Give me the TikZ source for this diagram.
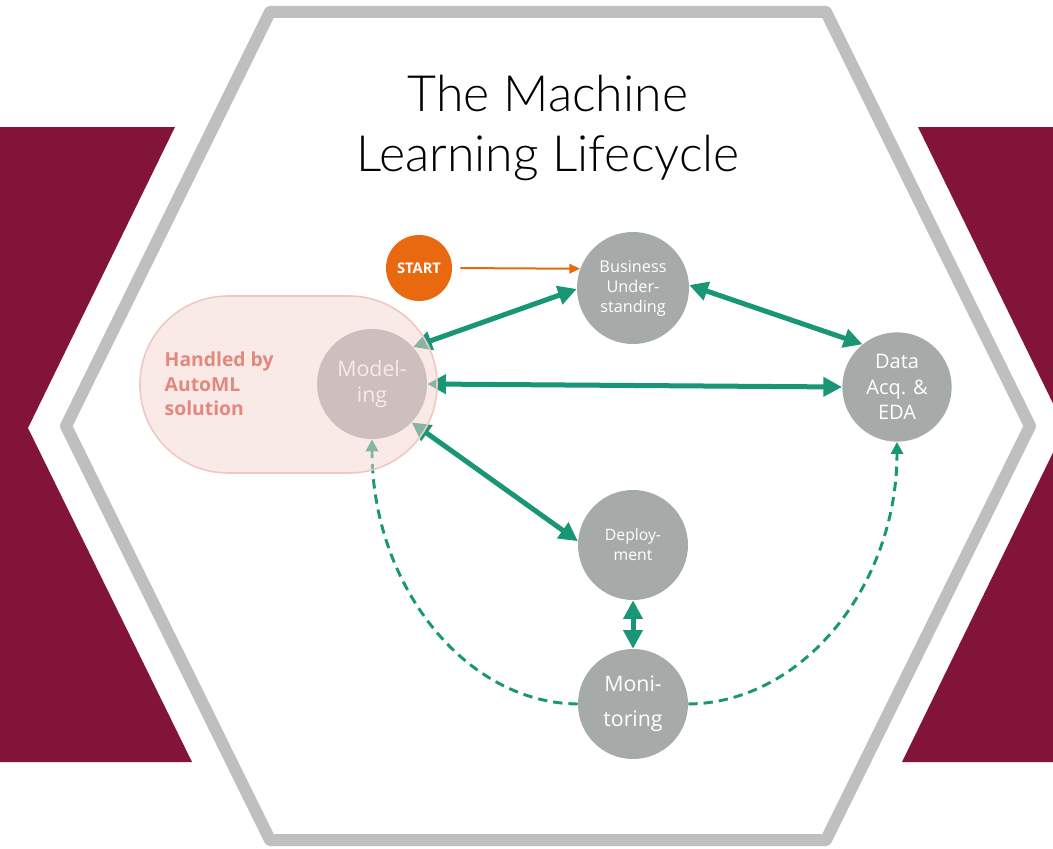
\documentclass[tikz,border=0pt]{standalone}
\usepackage{fontspec}
\setmainfont{Open Sans}
\newfontfamily\titlefont{Lato Light}
\usetikzlibrary{arrows.meta}
\definecolor{maroon}{RGB}{130,20,58}
\definecolor{hexgray}{RGB}{191,191,191}
\definecolor{nodegray}{RGB}{166,171,170}
\definecolor{tealc}{RGB}{24,150,118}
\definecolor{orangec}{RGB}{232,105,15}
\definecolor{pinkfill}{RGB}{245,212,208}
\definecolor{pinkline}{RGB}{240,200,195}
\definecolor{pinktext}{RGB}{226,136,124}
\tikzset{
  stage/.style={circle, fill=nodegray, text=white, align=center, inner sep=0pt, minimum size=82.5pt},
  flow/.style={draw=tealc, line width=3.75pt, {Triangle[length=14pt,width=14pt]}-{Triangle[length=14pt,width=14pt]}},
  loopback/.style={draw=tealc, line width=2.2pt, dash pattern=on 7pt off 4.5pt, -{Triangle[length=9pt,width=9pt]}},
}
\begin{document}
\begin{tikzpicture}[x=0.75pt,y=-0.75pt]
\useasboundingbox (0,0) rectangle (1053,849);
\clip (0,0) rectangle (1053,849);
% maroon side shapes
\fill[maroon] (-10,127) -- (175,127) -- (28,428) -- (192,762) -- (-10,762) -- cycle;
\fill[maroon] (918,127) -- (1065,428) -- (902,762) -- (1080,762) -- (1080,127) -- cycle;
% hexagon
\draw[hexgray, fill=white, line width=9pt, line join=round] (270,12) -- (826,12) -- (1030,426) -- (826,840) -- (270,840) -- (66,426) -- cycle;
% title
\node[font=\titlefont\fontsize{37.5}{45}\selectfont, align=center] (title) at (548,128) {The Machine\\Learning Lifecycle};
% nodes
\node[circle, fill=orangec, text=white, minimum size=49.5pt, inner sep=0pt, font=\bfseries\fontsize{11}{13}\selectfont] (start) at (419,268) {START};
\node[stage, minimum size=84pt, font=\fontsize{12.2}{15}\selectfont] (bus) at (633,288) {Business\\Under-\\standing};
\node[stage, minimum size=82pt, font=\fontsize{15}{19}\selectfont] (data) at (897,387) {Data\\Acq. \&\\EDA};
\node[stage, font=\fontsize{16}{19.5}\selectfont] (mod) at (372,384) {Model-\\ing};
\node[stage, font=\fontsize{11.8}{15}\selectfont] (dep) at (633,545) {Deploy-\\ment};
\node[stage, font=\fontsize{16}{26}\selectfont] (mon) at (633,704) {Moni-\\toring};
% connectors
\draw[orangec, line width=1.5pt, shorten <=6pt, -{Triangle[length=8pt,width=7pt]}] (start.east) -- (bus.160);
\draw[flow] (mod.42) -- (bus.181);
\draw[flow] (bus.3) -- (data.129);
\draw[flow] (mod.0) -- (data.180);
\draw[flow] (mod.-44) -- (dep.176);
\draw[flow] (dep.south) -- (mon.north);
\draw[loopback] (mon.west) .. controls (465,703) and (372,585) .. (mod.south);
\draw[loopback] (mon.east) .. controls (803,703) and (897,585) .. (data.south);
% AutoML overlay
\draw[pinkline, line width=1.2pt, fill=pinkfill, fill opacity=0.5, rounded corners=66pt] (140,296) rectangle (437,473);
\node[anchor=west, align=left, text=pinktext, font=\bfseries\fontsize{14.5}{18.5}\selectfont] (automl) at (160,384) {Handled by\\AutoML\\solution};
\end{tikzpicture}
\end{document}
